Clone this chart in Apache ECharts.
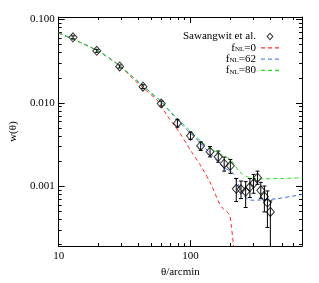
<!DOCTYPE html>
<html><head><meta charset="utf-8">
<script src="https://cdn.jsdelivr.net/npm/echarts@6/dist/echarts.min.js"></script>
<style>html,body{margin:0;padding:0;background:#fff}#c{width:319px;height:283px}</style>
</head><body><div id="c"></div>
<script>
// Observed data (Sawangwit et al.)
const theta = [12.85, 19.45, 29.0, 43.6, 60.0, 79.5, 100, 119.3, 140.6, 162.2, 179.9, 200.3, 222.2, 241.3, 261.8, 281.8, 300.5, 322, 341, 363, 382.8, 403];
const w = [0.0610, 0.0421, 0.0273, 0.01563, 0.0098, 0.0057, 0.00403, 0.00305, 0.00260, 0.00226, 0.00187, 0.00176, 0.000934, 0.000921, 0.000865, 0.000981, 0.001077, 0.00127, 0.000896, 0.000750, 0.000639, 0.000493];
const wLow = [0.0585, 0.0404, 0.0262, 0.0148, 0.00915, 0.00513, 0.00364, 0.00269, 0.00225, 0.00194, 0.00152, 0.00143, 0.000657, 0.000713, 0.000557, 0.000733, 0.000825, 0.001057, 0.000719, 0.000493, 0.000321, 0.0001];
const wHigh = [0.0636, 0.0438, 0.0285, 0.0165, 0.0105, 0.00631, 0.00448, 0.0034, 0.00300, 0.00265, 0.00224, 0.00210, 0.00124, 0.001157, 0.001138, 0.00124, 0.00139, 0.00152, 0.001117, 0.001008, 0.000879, 0.000668];

// Model curves
const theta0 = [10, 19.45, 29.0, 36, 45.2, 56.9, 65.7, 82.7, 101.2, 120.3, 143, 170, 196.1, 203.8, 216.4];
const w0 = [0.069, 0.0427, 0.02786, 0.0200, 0.01439, 0.01043, 0.00724, 0.00438, 0.00262, 0.00173, 0.00106, 0.000577, 0.000463, 0.000336, 0.000134];
const theta62 = [10, 19.45, 29.0, 43.4, 59.6, 74.2, 92.8, 118.9, 143, 179.9, 208, 233.2, 261.8, 293.9, 339, 452.6, 709];
const w62 = [0.069, 0.0427, 0.02786, 0.01607, 0.01035, 0.00705, 0.00486, 0.00331, 0.00241, 0.00167, 0.001458, 0.001008, 0.000733, 0.000681, 0.000686, 0.000710, 0.000803];
const theta80 = [10, 19.45, 29.0, 43.4, 59.6, 74.2, 94.5, 120.3, 143, 175, 202, 233.2, 269.6, 339, 478.9, 709];
const w80 = [0.069, 0.0427, 0.02786, 0.01607, 0.01043, 0.00724, 0.00499, 0.00345, 0.00282, 0.00235, 0.00207, 0.00152, 0.001299, 0.001229, 0.00124, 0.00127];

// Ticks
const xMajor = [10, 100];
const xMinor = [20, 30, 40, 50, 60, 70, 80, 90, 200, 300, 400, 500, 600];
const yMajor = [0.001, 0.01, 0.1];
const yMinor = [0.0002,0.0003,0.0004,0.0005,0.0006,0.0007,0.0008,0.0009,0.002,0.003,0.004,0.005,0.006,0.007,0.008,0.009,0.02,0.03,0.04,0.05,0.06,0.07,0.08,0.09];
const xTickLabels = [10, 100];
const yTickLabels = [0.001, 0.01, 0.1];

const X_MIN = 10, X_MAX = 700, Y_MIN = 0.000192, Y_MAX = 0.107;
const FONT = 'Liberation Serif';
const RED = '#ff2b2b', BLUE = '#3a68e8', GREEN = '#22e622';

function zip(a, b) { return a.map((v, i) => [v, b[i]]); }

function mkX(pos, ticks, len, line, labels) {
  return {
    type: 'log', logBase: 10, min: X_MIN, max: X_MAX, position: pos,
    name: labels ? 'θ/arcmin' : '', nameLocation: 'middle', nameGap: 16,
    nameTextStyle: { fontFamily: FONT, fontSize: 11, color: '#000' },
    axisLine: { show: line, onZero: false, lineStyle: { color: '#000', width: 1 } },
    axisTick: { show: true, inside: true, length: len, customValues: ticks, lineStyle: { color: '#000', width: 1 } },
    axisLabel: { show: labels, customValues: xTickLabels, margin: 5, fontFamily: FONT, fontSize: 11, color: '#000',
      formatter: v => String(Math.round(v)) },
    splitLine: { show: false }, minorTick: { show: false }
  };
}
function mkY(pos, ticks, len, line, labels) {
  return {
    type: 'log', logBase: 10, min: Y_MIN, max: Y_MAX, position: pos,
    name: labels ? 'w(θ)' : '', nameLocation: 'middle', nameGap: 31, nameRotate: 90,
    nameTextStyle: { fontFamily: FONT, fontSize: 11, color: '#000' },
    axisLine: { show: line, onZero: false, lineStyle: { color: '#000', width: 1 } },
    axisTick: { show: true, inside: true, length: len, customValues: ticks, lineStyle: { color: '#000', width: 1 } },
    axisLabel: { show: labels, customValues: yTickLabels, margin: 4, fontFamily: FONT, fontSize: 11, color: '#000',
      formatter: v => v.toFixed(3) },
    splitLine: { show: false }, minorTick: { show: false }
  };
}

const chart = echarts.init(document.getElementById('c'), null, { renderer: 'canvas' });
const dashed = (color) => ({ color: color, width: 1, type: [4, 3] });
const DASH_ICON = 'path://M0,0h4v1.3h-4z M7,0h4v1.3h-4z M14,0h4v1.3h-4z';
const DIAMOND_ICON = 'path://M3.5,0L7,4L3.5,8L0,4Z M3.5,1.6L1.4,4L3.5,6.4L5.6,4Z';

chart.setOption({
  animation: false,
  backgroundColor: '#fff',
  grid: { left: 56, top: 17, right: 17, bottom: 36, containLabel: false },
  xAxis: [
    mkX('bottom', xMinor, 3, true, true),
    mkX('bottom', xMajor, 6, false, false),
    mkX('top', xMinor, 3, true, false),
    mkX('top', xMajor, 6, false, false)
  ],
  yAxis: [
    mkY('left', yMinor, 3, true, true),
    mkY('left', yMajor, 6, false, false),
    mkY('right', yMinor, 3, true, false),
    mkY('right', yMajor, 6, false, false)
  ],
  legend: {
    orient: 'vertical', right: 35, top: 26, align: 'right',
    itemWidth: 18, itemHeight: 8, itemGap: -1.2, symbolKeepAspect: true,
    data: [
      { name: 'Sawangwit et al.', icon: DIAMOND_ICON, itemStyle: { color: '#000', borderWidth: 0 } },
      { name: 'fNL=0', icon: DASH_ICON, itemStyle: { color: RED, borderWidth: 0, opacity: 1 } },
      { name: 'fNL=62', icon: DASH_ICON, itemStyle: { color: '#5b8af0', borderWidth: 0, opacity: 1 } },
      { name: 'fNL=80', icon: DASH_ICON, itemStyle: { color: GREEN, borderWidth: 0, opacity: 1 } }
    ],
    formatter: function (name) {
      if (name.indexOf('fNL') === 0) return '{t|f}{s|NL}{t|' + name.slice(3) + '}';
      return '{t|' + name + '}';
    },
    textStyle: {
      fontFamily: FONT, fontSize: 11, color: '#000',
      rich: {
        t: { fontFamily: FONT, fontSize: 11, color: '#000', lineHeight: 10 },
        s: { fontFamily: FONT, fontSize: 7, color: '#000', verticalAlign: 'bottom', lineHeight: 10, padding: [5, 0, 0, 0] }
      }
    }
  },
  series: [
    { name: 'fNL=0', type: 'line', data: zip(theta0, w0), showSymbol: false, symbol: 'none', smooth: 0.3,
      lineStyle: dashed(RED), itemStyle: { color: RED }, clip: true, z: 2 },
    { name: 'fNL=62', type: 'line', data: zip(theta62, w62), showSymbol: false, symbol: 'none', smooth: 0.3,
      lineStyle: dashed(BLUE), itemStyle: { color: BLUE }, clip: true, z: 2 },
    { name: 'fNL=80', type: 'line', data: zip(theta80, w80), showSymbol: false, symbol: 'none', smooth: 0.3,
      lineStyle: dashed(GREEN), itemStyle: { color: GREEN }, clip: true, z: 3 },
    { name: 'errors', type: 'custom', clip: true, z: 4,
      data: theta.map((t, i) => [t, wLow[i], wHigh[i]]),
      renderItem: function (params, api) {
        const x = api.value(0);
        const lo = api.coord([x, api.value(1)]);
        const hi = api.coord([x, api.value(2)]);
        const c = 2;
        return { type: 'group', children: [
          { type: 'line', shape: { x1: lo[0], y1: lo[1], x2: hi[0], y2: hi[1] }, style: { stroke: '#000', lineWidth: 1 } },
          { type: 'line', shape: { x1: lo[0] - c, y1: lo[1], x2: lo[0] + c, y2: lo[1] }, style: { stroke: '#000', lineWidth: 1 } },
          { type: 'line', shape: { x1: hi[0] - c, y1: hi[1], x2: hi[0] + c, y2: hi[1] }, style: { stroke: '#000', lineWidth: 1 } }
        ] };
      }
    },
    { name: 'Sawangwit et al.', type: 'scatter', data: zip(theta, w), symbol: 'diamond', symbolSize: [8, 9], z: 5,
      itemStyle: { color: 'rgba(255,255,255,0)', borderColor: '#000', borderWidth: 1 } }
  ]
});
</script></body></html>
